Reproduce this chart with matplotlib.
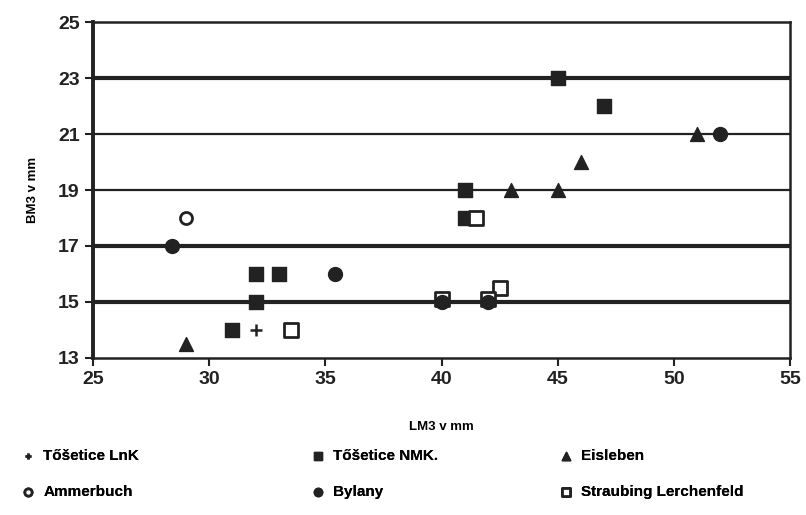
import matplotlib
matplotlib.use("Agg")
import matplotlib.pyplot as plt

plt.rcParams['font.family'] = ['Liberation Sans', 'DejaVu Sans']
plt.rcParams['font.weight'] = 'bold'

# Data
lnk_x = [32]
lnk_y = [14]
nmk_x = [31, 32, 32, 33, 41, 41, 45, 47]
nmk_y = [14, 15, 16, 16, 19, 18, 23, 22]
eis_x = [29, 43, 45, 46, 51]
eis_y = [13.5, 19, 19, 20, 21]
amm_x = [29]
amm_y = [18]
byl_x = [28.4, 35.4, 52, 40, 42]
byl_y = [17, 16, 21, 15, 15]
str_x = [33.5, 41.5, 42.5, 40, 42]
str_y = [14, 18, 15.5, 15.1, 15.1]

xticks = [25, 30, 35, 40, 45, 50, 55]
yticks = [13, 15, 17, 19, 21, 23, 25]

fig = plt.figure(figsize=(8.06, 5.15), dpi=100)
ax = fig.add_axes([0.1154, 0.305, 0.865, 0.652])

grid_w = {15: 3.0, 17: 3.0, 19: 1.6, 21: 1.6, 23: 3.0}
for yv, w in grid_w.items():
    ax.axhline(yv, color='#222222', lw=w, zorder=1)

ax.scatter(lnk_x, lnk_y, marker='+', s=70, color='#222222', linewidths=1.8, zorder=3, label='Tőšetice LnK')
ax.scatter(nmk_x, nmk_y, marker='s', s=90, color='#222222', zorder=3, label='Tőšetice NMK.')
ax.scatter(eis_x, eis_y, marker='^', s=100, color='#222222', zorder=3, label='Eisleben')
ax.scatter(amm_x, amm_y, marker='o', s=75, facecolor='white', edgecolor='#222222', linewidths=2, zorder=3, label='Ammerbuch')
ax.scatter(str_x, str_y, marker='s', s=90, facecolor='white', edgecolor='#222222', linewidths=2, zorder=3, label='Straubing Lerchenfeld')
ax.scatter(byl_x, byl_y, marker='o', s=100, color='#222222', zorder=4, label='Bylany')

ax.set_xlim(25, 55)
ax.set_ylim(13, 25)
ax.set_xticks(xticks)
ax.set_yticks(yticks)
ax.tick_params(axis='both', direction='out', length=6, width=1.5, labelsize=14, colors='#222222')
for lab in ax.get_xticklabels() + ax.get_yticklabels():
    lab.set_fontweight('heavy')
for s in ax.spines.values():
    s.set_linewidth(1.8)
    s.set_color('#222222')
ax.spines['left'].set_linewidth(2.8)

ax.set_xlabel('LM3 v mm', fontsize=9.5, fontweight='bold', labelpad=24)
ax.set_ylabel('BM3 v mm', fontsize=9.5, fontweight='bold', labelpad=14)

h, l = ax.get_legend_handles_labels()
hd = dict(zip(l, h))
columns = [(['Tőšetice LnK', 'Ammerbuch'], 0.01),
           (['Tőšetice NMK.', 'Bylany'], 0.37),
           (['Eisleben', 'Straubing Lerchenfeld'], 0.677)]
for names, x0 in columns:
    leg = fig.legend([hd[k] for k in names], names, loc='lower left', bbox_to_anchor=(x0, 0.005),
                     ncol=1, frameon=False, fontsize=11, markerscale=0.6,
                     handlelength=0.8, handletextpad=0.6, labelspacing=1.4)
    for t in leg.get_texts():
        t.set_fontweight('bold')
    fig.add_artist(leg)

fig.savefig('out.png', dpi=100)
